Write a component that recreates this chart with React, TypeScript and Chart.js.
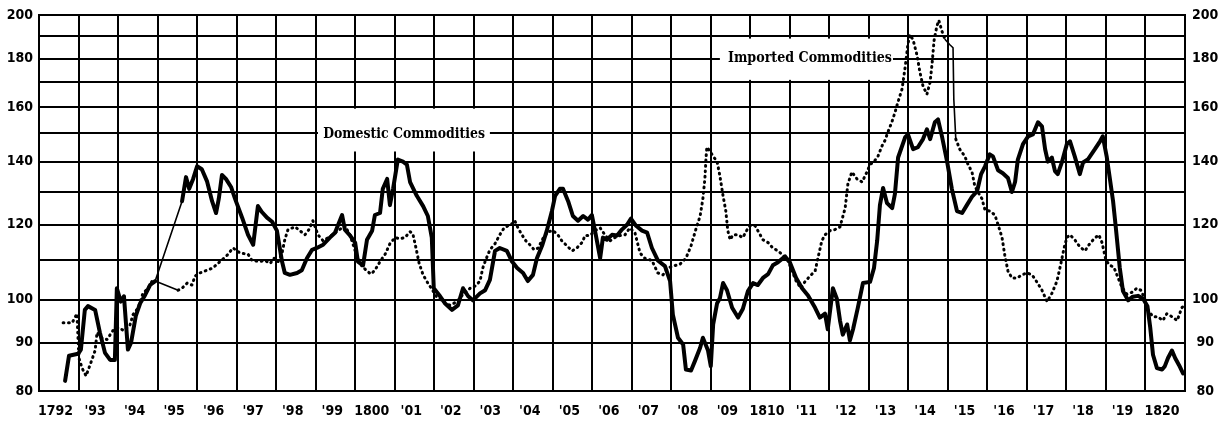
import React, { useEffect, useRef } from 'react';
import { Chart, registerables } from 'chart.js';

Chart.register(...registerables);

// ---------------- DATA ----------------
const yearLabels = [
  '1792', "'93", "'94", "'95", "'96", "'97", "'98", "'99", '1800', "'01",
  "'02", "'03", "'04", "'05", "'06", "'07", "'08", "'09", '1810', "'11",
  "'12", "'13", "'14", "'15", "'16", "'17", "'18", "'19", '1820',
];
const firstYear = 1792;
const lastYear = 1821;

const yGridValues = [80, 90, 100, 110, 120, 130, 140, 150, 160, 170, 180, 190, 200];
const yLabelValues = [80, 90, 100, 120, 140, 160, 180, 200];

const domesticYears = [
  1792.66, 1792.76, 1792.99, 1793.06, 1793.16, 1793.24, 1793.42, 1793.54, 1793.67, 1793.8, 1793.92, 1793.97, 1794.07, 1794.15, 1794.25, 1794.33, 1794.45, 1794.56, 1794.68, 1794.81, 1794.94,
  1795.62, 1795.72, 1795.8, 1795.9, 1796.0, 1796.12, 1796.25, 1796.38, 1796.48, 1796.55, 1796.63, 1796.73, 1796.86, 1796.96,
  1797.14, 1797.29, 1797.42, 1797.54, 1797.64, 1797.77, 1797.9, 1798.02, 1798.15, 1798.22, 1798.35, 1798.53, 1798.65, 1798.78, 1798.91,
  1799.03, 1799.19, 1799.36, 1799.49, 1799.67, 1799.74, 1799.87, 1800.0, 1800.07, 1800.2, 1800.3, 1800.43, 1800.5, 1800.63, 1800.7, 1800.81, 1800.88, 1800.96,
  1801.08, 1801.21, 1801.31, 1801.39, 1801.56, 1801.72, 1801.84, 1801.94, 1801.99, 1802.15, 1802.27, 1802.45, 1802.6, 1802.73, 1802.86, 1802.98,
  1803.16, 1803.29, 1803.41, 1803.54, 1803.66, 1803.84, 1803.97, 1804.1, 1804.25, 1804.37, 1804.5, 1804.6, 1804.73, 1804.85, 1804.98,
  1805.06, 1805.18, 1805.26, 1805.39, 1805.51, 1805.64, 1805.77, 1805.89, 1805.99, 1806.09, 1806.2, 1806.27, 1806.37, 1806.5, 1806.63, 1806.75, 1806.88, 1806.98,
  1807.11, 1807.26, 1807.39, 1807.51, 1807.66, 1807.84, 1807.97, 1808.04, 1808.17, 1808.3, 1808.37, 1808.5, 1808.6, 1808.73, 1808.8, 1808.93, 1809.0,
  1809.06, 1809.16, 1809.23, 1809.31, 1809.41, 1809.54, 1809.69, 1809.81, 1809.94, 1810.07, 1810.19, 1810.32, 1810.45, 1810.57, 1810.7, 1810.88, 1811.0,
  1811.16, 1811.31, 1811.46, 1811.64, 1811.76, 1811.89, 1811.96, 1812.09, 1812.19, 1812.27, 1812.34, 1812.45, 1812.52, 1812.6, 1812.72, 1812.85,
  1813.03, 1813.13, 1813.21, 1813.28, 1813.36, 1813.46, 1813.59, 1813.66, 1813.74, 1813.92, 1813.99, 1814.12, 1814.24, 1814.37, 1814.47, 1814.55, 1814.67, 1814.75, 1814.85, 1814.98,
  1815.1, 1815.23, 1815.36, 1815.48, 1815.61, 1815.74, 1815.84, 1815.94, 1816.06, 1816.14, 1816.27, 1816.39, 1816.52, 1816.62, 1816.7, 1816.77, 1816.9,
  1817.03, 1817.15, 1817.28, 1817.38, 1817.46, 1817.53, 1817.63, 1817.71, 1817.78, 1817.89, 1818.01, 1818.09, 1818.21, 1818.34, 1818.42, 1818.54, 1818.72, 1818.85, 1818.92,
  1819.02, 1819.1, 1819.18, 1819.25, 1819.35, 1819.43, 1819.56, 1819.68, 1819.81, 1819.94, 1820.05, 1820.12, 1820.19, 1820.29, 1820.42, 1820.49, 1820.57, 1820.67, 1820.75, 1820.85, 1820.95,
];
const domesticValues = [
  82.0, 87.2, 87.6, 88.5, 97.5, 98.4, 97.5, 92.3, 87.8, 86.3, 86.3, 102.8, 99.5, 100.8, 88.5, 90.0, 96.1, 99.1, 101.0, 103.6, 104.6,
  127.1, 134.8, 131.0, 134.2, 138.4, 137.4, 133.5, 127.1, 123.5, 127.9, 135.5, 134.2, 131.6, 127.9,
  122.1, 117.1, 114.3, 125.6, 123.8, 122.1, 120.9, 118.3, 109.7, 106.7, 106.2, 106.7, 107.4, 110.6, 112.9,
  113.4, 114.3, 116.3, 117.7, 122.9, 118.6, 116.9, 114.9, 109.7, 108.7, 115.7, 118.3, 122.9, 123.5, 131.0, 134.2, 125.9, 131.0,
  140.7, 140.0, 139.0, 133.2, 128.8, 125.6, 122.6, 116.3, 102.8, 100.8, 99.1, 97.5, 98.6, 102.8, 100.8, 99.8,
  101.5, 102.3, 104.9, 112.6, 113.4, 112.6, 109.7, 108.0, 106.7, 104.6, 106.2, 110.6, 114.0, 118.3, 124.1,
  128.8, 131.0, 131.0, 127.1, 122.6, 121.2, 122.6, 121.5, 122.9, 117.1, 110.6, 116.3, 115.7, 117.1, 116.9, 118.6, 120.0, 121.8,
  119.7, 118.3, 117.7, 113.4, 110.0, 108.5, 104.6, 96.4, 91.1, 89.6, 84.3, 84.1, 86.1, 88.9, 91.1, 88.3, 85.0,
  94.1, 99.1, 100.3, 104.1, 102.3, 98.0, 95.7, 97.7, 102.1, 104.1, 103.6, 105.4, 106.4, 108.7, 109.5, 111.1, 109.5,
  105.4, 102.8, 101.0, 98.0, 95.7, 96.6, 93.0, 102.8, 100.2, 95.0, 91.8, 94.1, 90.5, 93.0, 98.0, 104.1,
  104.4, 108.0, 115.4, 125.9, 131.3, 126.5, 125.0, 129.4, 141.4, 148.6, 149.6, 144.3, 145.0, 147.9, 151.5, 147.9, 154.1, 155.2, 148.9, 140.0,
  131.0, 124.1, 123.5, 125.9, 128.5, 130.3, 135.8, 138.4, 142.5, 141.8, 137.1, 136.1, 134.5, 130.0, 133.2, 140.7, 146.1,
  148.9, 149.6, 154.1, 152.6, 144.3, 140.0, 141.4, 136.8, 135.8, 140.0, 146.1, 147.1, 141.8, 135.8, 139.7, 140.7, 144.3, 147.1, 148.9,
  141.6, 134.2, 127.1, 119.1, 108.0, 102.1, 99.8, 100.7, 100.9, 100.2, 98.4, 93.4, 87.4, 84.6, 84.3, 85.0, 86.7, 88.3, 86.7, 85.2, 83.5,
];
// spans with missing months, bridged by a thin line
const domesticGaps = [[1794.94, 1795.62]];

const importedYears = [
  1792.61, 1792.84, 1792.96, 1793.01, 1793.09, 1793.19, 1793.29, 1793.42, 1793.47, 1793.57, 1793.72, 1793.87, 1794.0, 1794.15, 1794.3, 1794.38, 1794.51, 1794.63, 1794.76, 1794.88, 1794.94,
  1795.52, 1795.62, 1795.75, 1795.87, 1795.95, 1796.07, 1796.25, 1796.4, 1796.58, 1796.76, 1796.91,
  1797.09, 1797.29, 1797.39, 1797.59, 1797.72, 1797.85, 1797.95, 1798.05, 1798.15, 1798.22, 1798.3, 1798.48, 1798.6, 1798.73, 1798.83, 1798.93,
  1799.06, 1799.19, 1799.36, 1799.57, 1799.74, 1799.87, 1799.95, 1800.05, 1800.17, 1800.3, 1800.4, 1800.5, 1800.63, 1800.76, 1800.88,
  1801.01, 1801.13, 1801.26, 1801.39, 1801.46, 1801.54, 1801.62, 1801.72, 1801.84, 1801.94, 1802.05, 1802.22, 1802.4, 1802.58, 1802.73, 1802.91,
  1803.03, 1803.16, 1803.23, 1803.31, 1803.41, 1803.54, 1803.66, 1803.77, 1803.87, 1803.97, 1804.04, 1804.12, 1804.22, 1804.32, 1804.42, 1804.53, 1804.63, 1804.75, 1804.88,
  1805.01, 1805.13, 1805.23, 1805.36, 1805.49, 1805.61, 1805.74, 1805.82, 1805.94, 1806.07, 1806.2, 1806.32, 1806.45, 1806.57, 1806.7, 1806.83, 1806.95,
  1807.08, 1807.21, 1807.33, 1807.51, 1807.66, 1807.79, 1807.92, 1808.04, 1808.22, 1808.37, 1808.5, 1808.62, 1808.73, 1808.8, 1808.85, 1808.88, 1808.9, 1808.98,
  1809.06, 1809.16, 1809.23, 1809.31, 1809.38, 1809.43, 1809.49, 1809.56, 1809.69, 1809.81, 1809.92, 1809.99, 1810.12, 1810.19, 1810.32, 1810.45, 1810.57, 1810.7, 1810.83, 1810.95,
  1811.05, 1811.16, 1811.28, 1811.38, 1811.51, 1811.64, 1811.71, 1811.81, 1811.89, 1812.02, 1812.14, 1812.27, 1812.4, 1812.47, 1812.57, 1812.7, 1812.83, 1812.95,
  1813.03, 1813.13, 1813.23, 1813.33, 1813.41, 1813.48, 1813.58, 1813.66, 1813.74, 1813.84, 1813.92, 1813.99, 1814.04, 1814.12, 1814.22, 1814.29, 1814.37, 1814.47, 1814.55, 1814.6, 1814.65, 1814.72, 1814.77, 1814.85, 1814.93,
  1815.05, 1815.13, 1815.15, 1815.2, 1815.3, 1815.43, 1815.51, 1815.61, 1815.68, 1815.76, 1815.86, 1815.94, 1816.06, 1816.19, 1816.27, 1816.37, 1816.44, 1816.52, 1816.62, 1816.75, 1816.87,
  1817.0, 1817.13, 1817.25, 1817.38, 1817.51, 1817.63, 1817.76, 1817.86, 1817.94, 1818.01, 1818.09, 1818.21, 1818.34, 1818.47, 1818.57, 1818.7, 1818.82, 1818.9,
  1819.0, 1819.1, 1819.2, 1819.3, 1819.4, 1819.53, 1819.66, 1819.78, 1819.88, 1819.98, 1820.06, 1820.19, 1820.31, 1820.44, 1820.54, 1820.67, 1820.8, 1820.92, 1821.0,
];
const importedValues = [
  94.5, 94.5, 96.6, 86.7, 84.6, 83.0, 85.2, 88.3, 92.3, 91.1, 90.7, 92.7, 93.4, 92.7, 93.9, 96.4, 98.0, 101.5, 102.8, 104.9, 104.6,
  102.3, 102.8, 104.1, 103.6, 105.9, 106.7, 107.4, 108.0, 109.7, 111.4, 113.4,
  112.0, 111.7, 110.0, 109.7, 110.0, 109.2, 110.6, 109.7, 112.0, 115.7, 118.6, 119.4, 118.3, 117.1, 118.6, 121.2,
  117.1, 115.4, 116.6, 118.3, 119.7, 117.1, 114.3, 111.0, 108.5, 107.2, 106.4, 107.4, 109.7, 111.7, 114.6,
  116.3, 116.0, 116.3, 118.0, 117.4, 113.4, 109.2, 106.2, 104.1, 102.6, 100.8, 99.5, 98.6, 99.5, 101.3, 102.8,
  103.3, 104.6, 108.0, 110.3, 112.9, 114.6, 117.1, 119.1, 119.7, 120.3, 121.2, 119.1, 117.1, 115.4, 114.3, 112.9, 113.4, 116.0, 118.0,
  118.3, 117.1, 115.4, 114.0, 112.6, 113.4, 114.9, 116.9, 116.9, 118.3, 119.1, 117.1, 115.4, 116.3, 116.9, 117.1, 119.1,
  117.7, 112.0, 110.6, 110.0, 106.7, 106.2, 108.0, 108.5, 109.0, 110.6, 114.0, 118.6, 122.6, 127.9, 134.2, 141.4, 145.0, 143.6,
  141.8, 140.0, 135.2, 128.8, 124.1, 118.3, 115.7, 117.1, 117.1, 116.3, 118.6, 119.7, 119.7, 118.3, 115.7, 114.9, 113.4, 112.6, 111.4, 110.0,
  107.4, 104.6, 102.8, 104.4, 105.9, 107.2, 110.6, 115.4, 117.1, 118.3, 118.6, 119.4, 125.0, 132.6, 136.5, 134.2, 133.2, 136.5,
  139.0, 140.0, 141.8, 145.4, 147.5, 150.4, 154.1, 157.8, 162.1, 167.1, 176.5, 186.7, 190.8, 188.4, 181.4, 174.3, 168.3, 165.0, 170.0, 177.8, 188.1, 194.8, 197.6, 192.4, 188.6,
  186.2, 184.8, 162.9, 147.9, 144.3, 141.8, 139.0, 136.5, 131.9, 130.0, 127.9, 124.4, 124.1, 122.9, 120.0, 116.3, 111.4, 107.2, 105.4, 105.4, 106.2,
  106.7, 106.2, 104.4, 102.3, 99.5, 101.5, 104.6, 109.2, 113.4, 116.3, 117.1, 115.7, 113.7, 112.6, 114.3, 116.0, 117.1, 114.9,
  110.0, 108.7, 108.2, 105.6, 103.1, 101.3, 101.8, 102.8, 102.3, 100.2, 97.5, 95.9, 95.9, 95.0, 96.6, 95.9, 95.0, 98.0, 98.9,
];
const importedGaps = [[1794.94, 1795.52], [1814.93, 1815.2]];

const seriesNames = ['Domestic Commodities', 'Imported Commodities'];

// ---------------- STYLE / LAYOUT ----------------
const INK = '#000000';
const TICK_FONT = "'DejaVu Sans Condensed', 'DejaVu Sans', sans-serif";
const NOTE_FONT = "'DejaVu Serif Condensed', 'DejaVu Serif', serif";
const LABEL_OFFSET = 0.42; // year label position inside its column

// annotation boxes: [xFrom, xTo, yFrom, yTo] in data units; text anchor; text width in years
const annotations = [
  { text: seriesNames[0], box: [1799.06, 1803.41, 143.5, 159.3], at: [1801.24, 149.6], widthYears: 4.1 },
  { text: seriesNames[1], box: [1809.23, 1813.61, 170.9, 189.0], at: [1811.51, 180], widthYears: 4.15 },
];

function inGap(ctx: any, gaps: number[][]) {
  const a = ctx.p0.parsed.x;
  const b = ctx.p1.parsed.x;
  return gaps.some((g) => a >= g[0] - 1e-6 && b <= g[1] + 1e-6);
}

const xTickValues: number[] = [];
for (let y = firstYear; y <= lastYear; y++) {
  xTickValues.push(y);
  if (y < lastYear) xTickValues.push(y + LABEL_OFFSET);
}

const annotationPlugin = {
  id: 'seriesLabels',
  beforeDatasetsDraw(chart: any) {
    const { ctx, scales } = chart;
    const x = scales.x;
    const y = scales.y;
    annotations.forEach((a) => {
      const left = x.getPixelForValue(a.box[0]);
      const right = x.getPixelForValue(a.box[1]);
      const top = y.getPixelForValue(a.box[3]);
      const bottom = y.getPixelForValue(a.box[2]);
      ctx.save();
      ctx.fillStyle = '#ffffff';
      ctx.fillRect(left, top, right - left, bottom - top);
      const target = x.getPixelForValue(a.at[0] + a.widthYears / 2) - x.getPixelForValue(a.at[0] - a.widthYears / 2);
      ctx.font = `bold 20px ${NOTE_FONT}`;
      const w = ctx.measureText(a.text).width;
      const size = Math.max(10, Math.min(22, (20 * target) / w));
      ctx.font = `bold ${size.toFixed(1)}px ${NOTE_FONT}`;
      ctx.fillStyle = INK;
      ctx.textAlign = 'center';
      ctx.textBaseline = 'middle';
      ctx.fillText(a.text, x.getPixelForValue(a.at[0]), y.getPixelForValue(a.at[1]));
      ctx.restore();
    });
  },
};

function yAxis(position: 'left' | 'right') {
  return {
    type: 'logarithmic',
    position,
    min: 80,
    max: 200,
    afterBuildTicks: (s: any) => {
      s.ticks = yGridValues.map((v) => ({ value: v }));
    },
    afterFit: (s: any) => {
      s.width = position === 'left' ? 39 : 33;
    },
    ticks: {
      autoSkip: false,
      padding: position === 'left' ? 6 : 7,
      crossAlign: position === 'left' ? 'near' : 'center',
      color: INK,
      font: { family: TICK_FONT, size: 14, weight: 'bold' },
      callback: (v: number) => (yLabelValues.includes(v) ? String(v) : ''),
    },
    grid: position === 'left'
      ? { color: INK, lineWidth: 2, drawTicks: false }
      : { drawOnChartArea: false, drawTicks: false },
    border: { display: true, color: INK, width: 2 },
  };
}

export default function App() {
  const ref = useRef<HTMLCanvasElement | null>(null);

  useEffect(() => {
    document.body.style.margin = '0';
    const canvas = ref.current;
    if (!canvas) return;
    const chart = new Chart(canvas, {
      type: 'line',
      data: {
        datasets: [
          {
            label: seriesNames[0],
            data: domesticYears.map((x, i) => ({ x, y: domesticValues[i] })),
            borderColor: INK,
            borderWidth: 4,
            borderJoinStyle: 'round',
            borderCapStyle: 'round',
            pointRadius: 0,
            tension: 0,
            segment: {
              borderWidth: (ctx: any) => (inGap(ctx, domesticGaps) ? 1.6 : undefined),
            },
          },
          {
            label: seriesNames[1],
            data: importedYears.map((x, i) => ({ x, y: importedValues[i] })),
            borderColor: INK,
            borderWidth: 3,
            borderDash: [0.8, 4.6],
            borderJoinStyle: 'round',
            borderCapStyle: 'round',
            pointRadius: 0,
            tension: 0,
            segment: {
              borderWidth: (ctx: any) => (inGap(ctx, importedGaps) ? 1.6 : undefined),
              borderDash: (ctx: any) => (inGap(ctx, importedGaps) ? [] : undefined),
            },
          },
        ],
      } as any,
      options: {
        responsive: false,
        animation: false,
        events: [],
        layout: { padding: { top: 14, left: 0, right: 0, bottom: 0 } },
        plugins: { legend: { display: false }, tooltip: { enabled: false } },
        scales: {
          x: {
            type: 'linear',
            min: firstYear,
            max: lastYear,
            afterBuildTicks: (s: any) => {
              s.ticks = xTickValues.map((v) => ({ value: v }));
            },
            afterFit: (s: any) => {
              s.height = 30;
            },
            ticks: {
              autoSkip: false,
              maxRotation: 0,
              padding: 12,
              color: INK,
              font: { family: TICK_FONT, size: 14, weight: 'bold' },
              callback: (v: number) => {
                if (Math.abs(v - Math.round(v)) < 1e-6) return '';
                return yearLabels[Math.floor(v) - firstYear] ?? '';
              },
            },
            grid: {
              color: (c: any) =>
                c.tick && Math.abs(c.tick.value - Math.round(c.tick.value)) < 1e-6 ? INK : 'rgba(0,0,0,0)',
              lineWidth: 2,
              drawTicks: false,
            },
            border: { display: true, color: INK, width: 2 },
          },
          y: yAxis('left'),
          y2: yAxis('right'),
        } as any,
      },
      plugins: [annotationPlugin],
    });
    return () => chart.destroy();
  }, []);

  return (
    <div style={{ position: 'relative', width: 1218, height: 421, background: '#fff' }}>
      <canvas ref={ref} width={1218} height={421} style={{ display: 'block' }} />
    </div>
  );
}
